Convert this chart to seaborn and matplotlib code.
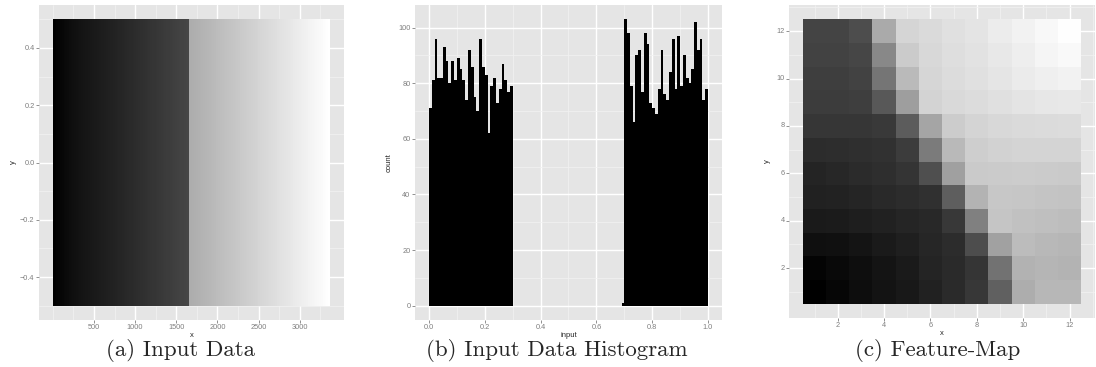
import numpy as np
import pandas as pd
import matplotlib
matplotlib.use("Agg")
import matplotlib.pyplot as plt
from matplotlib.colors import ListedColormap
import seaborn as sns

# ---------------- data ----------------
# (a) sorted input data shown as a grey strip: two gradient segments
a_seg_start = [0.0, 0.7]
a_seg_end = [0.3, 1.0]
a_seg_len = [1653, 1717]
a_xticks = [500, 1000, 1500, 2000, 2500, 3000]
a_xminor = [0, 250, 750, 1250, 1750, 2250, 2750, 3250]
a_yticks = [-0.4, -0.2, 0.0, 0.2, 0.4]
a_yminor = [-0.5, -0.3, -0.1, 0.1, 0.3, 0.5]
a_yticklabels = ["\u22120.4", "\u22120.2", "0.0", "0.2", "0.4"]

# (b) histogram counts, bin width 0.01
b_binwidth = 0.01
b_left_start = 0.0
b_left_counts = [71, 81, 96, 82, 82, 93, 88, 80, 88, 81,
                 89, 85, 81, 74, 92, 86, 75, 70, 96, 86,
                 83, 62, 79, 82, 73, 78, 87, 81, 77, 79]
b_right_start = 0.69
b_right_counts = [1, 103, 98, 79, 66, 90, 92, 77, 98, 94, 73,
                  71, 69, 78, 92, 76, 74, 84, 96, 78, 97,
                  79, 90, 82, 80, 85, 102, 92, 96, 74, 78]
b_xticks = [0.0, 0.2, 0.4, 0.6, 0.8, 1.0]
b_xticklabels = ["0.0", "0.2", "0.4", "0.6", "0.8", "1.0"]
b_xminor = [0.1, 0.3, 0.5, 0.7, 0.9]
b_yticks = [0, 20, 40, 60, 80, 100]
b_yminor = [10, 30, 50, 70, 90]

# (c) 12x12 feature map (grey level 0-255), rows y = 1 (bottom) .. 12 (top)
c_grid = [
    [0, 6, 13, 19, 24, 33, 42, 55, 96, 173, 183, 183],
    [4, 9, 14, 20, 26, 36, 42, 53, 114, 178, 181, 179],
    [15, 16, 20, 26, 31, 38, 44, 77, 161, 188, 184, 182],
    [26, 27, 30, 33, 37, 40, 56, 128, 197, 193, 191, 189],
    [33, 34, 37, 41, 44, 48, 94, 179, 199, 198, 196, 195],
    [36, 39, 43, 46, 52, 79, 160, 202, 203, 204, 203, 202],
    [44, 45, 47, 49, 60, 123, 185, 206, 210, 212, 212, 212],
    [54, 54, 54, 57, 92, 165, 204, 212, 216, 218, 219, 220],
    [60, 60, 62, 88, 158, 211, 217, 220, 224, 228, 231, 232],
    [62, 62, 66, 117, 186, 214, 220, 224, 229, 235, 239, 242],
    [66, 66, 70, 136, 203, 216, 222, 226, 232, 238, 245, 249],
    [68, 68, 77, 170, 213, 218, 224, 228, 236, 242, 248, 254],
]
c_ticks = [2, 4, 6, 8, 10, 12]
c_minor = [1, 3, 5, 7, 9, 11, 13]

captions = ["(a) Input Data", "(b) Input Data Histogram", "(c) Feature-Map"]
caption_x_px = [181, 557, 938]

# ---------------- style ----------------
sns.set_style("white")
plt.rcParams["font.family"] = ["Liberation Sans", "DejaVu Sans"]

TICK_COL = "#7f7f7f"
TICK_SIZE = 5.3
TITLE_SIZE = 5.5

# grey scale that is linear in CIE lightness (like ggplot's black->white gradient)
L = np.linspace(0, 100, 256)
Y = np.where(L > 8, ((L + 16) / 116) ** 3, L / 903.3)
s = np.where(Y <= 0.0031308, 12.92 * Y, 1.055 * np.power(Y, 1 / 2.4) - 0.055)
lab_gray = ListedColormap(np.stack([s, s, s], 1))


def gg(ax):
    ax.set_facecolor("#e5e5e5")
    for sp in ax.spines.values():
        sp.set_visible(False)
    ax.set_axisbelow(True)
    ax.grid(which="major", color="white", lw=1.0)
    ax.grid(which="minor", color="#f2f2f2", lw=0.5)
    ax.tick_params(which="major", length=2.4, width=0.6, color=TICK_COL,
                   labelsize=TICK_SIZE, labelcolor=TICK_COL, pad=0.8,
                   bottom=True, left=True)
    ax.tick_params(which="minor", length=0, bottom=False, left=False)


W, H = 1096, 367
fig = plt.figure(figsize=(W / 100, H / 100), dpi=100)


def axes_px(x0, x1, y0, y1):
    return fig.add_axes([x0 / W, (H - y1) / H, (x1 - x0) / W, (y1 - y0) / H])


# ---------------- (a) ----------------
axa = axes_px(39, 344, 5, 320)
vals = np.concatenate([np.linspace(s0, e0, n) for s0, e0, n in
                       zip(a_seg_start, a_seg_end, a_seg_len)])
N = len(vals)
xe = np.arange(N + 1) + 0.5
axa.pcolormesh(xe, [-0.5, 0.5], vals[None, :], cmap=lab_gray, vmin=0, vmax=1,
               shading="flat", rasterized=True)
pad = 0.05 * N
axa.set_xlim(0.5 - pad, N + 0.5 + pad)
axa.set_ylim(-0.55, 0.55)
axa.set_xticks(a_xticks)
axa.set_xticklabels([str(t) for t in a_xticks])
axa.set_xticks(a_xminor, minor=True)
axa.set_yticks(a_yticks)
axa.set_yticklabels(a_yticklabels)
axa.set_yticks(a_yminor, minor=True)
gg(axa)
axa.set_xlabel("x", fontsize=TITLE_SIZE, labelpad=0.5)
axa.set_ylabel("y", fontsize=TITLE_SIZE, labelpad=2)

# ---------------- (b) ----------------
axb = axes_px(415, 722, 5, 320)
centers = ([b_left_start + b_binwidth * (i + 0.5) for i in range(len(b_left_counts))] +
           [b_right_start + b_binwidth * (i + 0.5) for i in range(len(b_right_counts))])
weights = b_left_counts + b_right_counts
hist_df = pd.DataFrame({"input": centers, "count": weights})
sns.histplot(data=hist_df, x="input", weights="count", binwidth=b_binwidth,
             binrange=(0.0, 1.0), ax=axb, color="black",
             alpha=1, edgecolor="none", linewidth=0)
ymax = max(weights)
axb.set_xlim(-0.05, 1.05)
axb.set_ylim(-0.05 * ymax, 1.05 * ymax)
axb.set_xticks(b_xticks)
axb.set_xticklabels(b_xticklabels)
axb.set_xticks(b_xminor, minor=True)
axb.set_yticks(b_yticks)
axb.set_yticklabels([str(t) for t in b_yticks])
axb.set_yticks(b_yminor, minor=True)
gg(axb)
axb.set_xlabel("input", fontsize=TITLE_SIZE, labelpad=0.5)
axb.set_ylabel("count", fontsize=TITLE_SIZE, labelpad=4)

# ---------------- (c) ----------------
axc = axes_px(789, 1095, 5, 318)
sns.heatmap(np.array(c_grid), ax=axc, cmap="gray", vmin=0, vmax=255, cbar=False)
axc.set_xlim(-0.6, 12.6)
axc.set_ylim(-0.6, 12.6)
axc.set_xticks([t - 0.5 for t in c_ticks])
axc.set_xticklabels([str(t) for t in c_ticks], rotation=0)
axc.set_xticks([t - 0.5 for t in c_minor], minor=True)
axc.set_yticks([t - 0.5 for t in c_ticks])
axc.set_yticklabels([str(t) for t in c_ticks], rotation=0)
axc.set_yticks([t - 0.5 for t in c_minor], minor=True)
gg(axc)
axc.set_xlabel("x", fontsize=TITLE_SIZE, labelpad=0.5)
axc.set_ylabel("y", fontsize=TITLE_SIZE, labelpad=4)

# ---------------- captions ----------------
for cx, cap in zip(caption_x_px, captions):
    fig.text(cx / W, (H - 351) / H, cap, ha="center", va="center",
             fontsize=16.5, family=["cmr10", "DejaVu Serif"])

fig.savefig("out.png", dpi=100)
